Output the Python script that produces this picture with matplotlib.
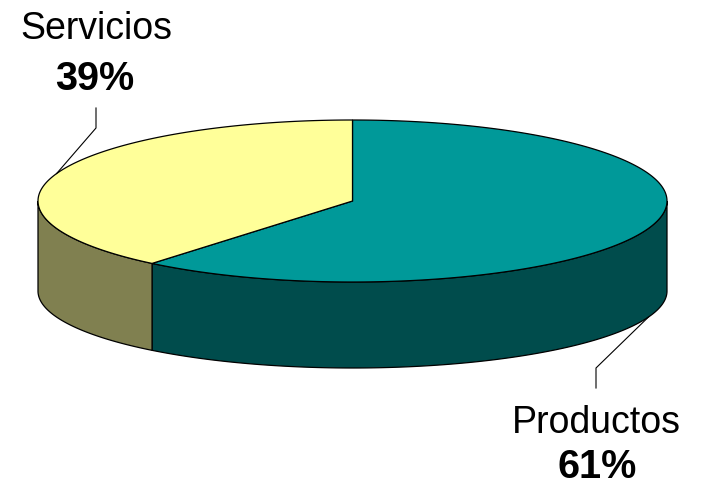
import numpy as np
import matplotlib.pyplot as plt
from matplotlib.patches import Polygon

# data
labels = ['Productos', 'Servicios']
values = [61, 39]

# styles
top_colors = ['#009999', '#FFFF99']
side_colors = ['#004C4C', '#808050']

# layout (pixels)
W, H = 701, 487
cx, a = 352.5, 314.5
cy_top, b_top = 201, 81
cy_bot, b_bot = 291, 77
# elbow / end of leader line and label baseline for each slice
elbow = [(596, 368), (96, 128)]
line_end = [(596, 388), (96, 108)]
name_base = [(596, 433), (96, 39)]
pct_base = [(597, 478), (95, 90)]
fs_name = 27
fs_pct = 28.5


def top_pt(t):
    return cx + a * np.cos(t), cy_top - b_top * np.sin(t)


def bot_pt(t):
    return cx + a * np.cos(t), cy_bot - b_bot * np.sin(t)


fig = plt.figure(figsize=(W / 100, H / 100), dpi=100)
ax = fig.add_axes([0, 0, 1, 1])
ax.set_xlim(0, W)
ax.set_ylim(H, 0)
ax.axis('off')

# angles, clockwise from 12 o'clock
total = float(sum(values))
bounds = []
start = 90.0
for v in values:
    end = start - v / total * 360.0
    bounds.append((end, start))
    start = end

# side walls (only the front half is visible)
for (lo, hi), col in zip(bounds, side_colors):
    for off in (-360, 0, 360):
        s0 = max(lo + off, 180)
        s1 = min(hi + off, 360)
        if s1 <= s0:
            continue
        t = np.radians(np.linspace(s0, s1, 200))
        xt, yt = top_pt(t)
        xb, yb = bot_pt(t[::-1])
        pts = np.column_stack([np.r_[xt, xb], np.r_[yt, yb]])
        ax.add_patch(Polygon(pts, closed=True, facecolor=col,
                             edgecolor='black', linewidth=0.9, zorder=2))

# top faces
for (lo, hi), col in zip(bounds, top_colors):
    t = np.radians(np.linspace(lo, hi, 300))
    xt, yt = top_pt(t)
    pts = np.column_stack([np.r_[cx, xt], np.r_[cy_top, yt]])
    ax.add_patch(Polygon(pts, closed=True, facecolor=col,
                         edgecolor='black', linewidth=0.9, zorder=3))

# leader lines and labels
for i, ((lo, hi), lab, v) in enumerate(zip(bounds, labels, values)):
    mid = np.radians((lo + hi) / 2)
    if np.sin(mid) < 0:
        x0, y0 = bot_pt(mid)
    else:
        x0, y0 = top_pt(mid)
    xs = [x0, elbow[i][0], line_end[i][0]]
    ys = [y0, elbow[i][1], line_end[i][1]]
    ax.plot(xs, ys, color='black', linewidth=0.8, zorder=4)
    ax.text(name_base[i][0], name_base[i][1], lab, ha='center', va='baseline',
            fontsize=fs_name, family='Liberation Sans')
    ax.text(pct_base[i][0], pct_base[i][1], '{}%'.format(v), ha='center',
            va='baseline', fontsize=fs_pct, fontweight='bold', family='Liberation Sans')

fig.savefig('out.png', dpi=100)
